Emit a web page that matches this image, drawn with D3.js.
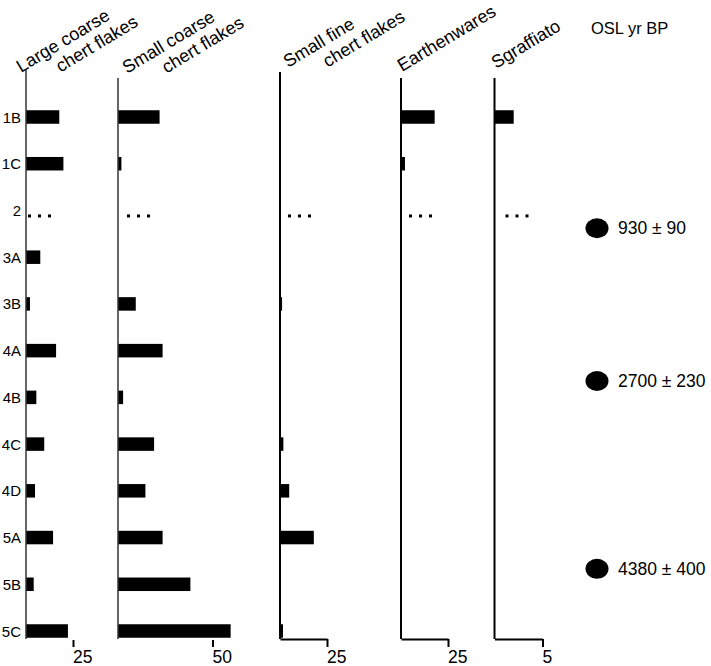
<!DOCTYPE html>
<html>
<head>
<meta charset="utf-8">
<script src="https://cdn.jsdelivr.net/npm/d3@7/dist/d3.min.js"></script>
<style>
  html, body { margin: 0; padding: 0; background: #fff; }
  svg { display: block; font-family: "Liberation Sans", Arial, sans-serif; }
</style>
</head>
<body>
<svg id="chart" width="711" height="666"></svg>
<script>
// ---- data ----
const rows = ["1B", "1C", "2", "3A", "3B", "4A", "4B", "4C", "4D", "5A", "5B", "5C"];
const missingRow = "2";
const largeCoarse = [17.7, 19.9, null, 7.6, 2.1, 16.0, 5.5, 9.7, 4.8, 14.4, 4.1, 22.3];
const smallCoarse = [22.0, 1.8, null, 0, 9.4, 23.6, 2.7, 19.1, 14.5, 23.6, 38.3, 59.6];
const smallFine   = [0, 0, null, 0, 1.1, 0, 0, 1.8, 4.9, 18.0, 0, 1.6];
const earthenwares = [17.9, 2.1, null, 0, 0, 0, 0, 0, 0, 0, 0, 0];
const sgraffiato  = [2.0, 0, null, 0, 0, 0, 0, 0, 0, 0, 0, 0];
const seriesTitles = [["Large coarse", "chert flakes"], ["Small coarse", "chert flakes"],
                      ["Small fine", "chert flakes"], ["Earthenwares"], ["Sgraffiato"]];
const tickMax = [25, 50, 25, 25, 5];
const oslTitle = "OSL yr BP";
const oslLabels = ["930 ± 90", "2700 ± 230", "4380 ± 400"];
const oslPos = [2.38, 5.65, 9.67]; // position in row-index units

// ---- layout / style ----
const svg = d3.select("#chart");
const font = "'Liberation Sans', Arial, sans-serif";
const y = d3.scalePoint().domain(rows).range([117, 631]);
const yIdx = d3.scaleLinear().domain([0, rows.length - 1]).range([117, 631]);
const barH = 13.5;
const baseY = 639;

const panels = [
  {values: largeCoarse, x0: 26, x1: 73, top: 70, lw: 1.5, base: false, hx: -5, hy: 73, dotOff: 2},
  {values: smallCoarse, x0: 118, x1: 212.5, top: 78, lw: 1.5, base: false, hx: 9, hy: 74, dotOff: 9},
  {values: smallFine, x0: 280, x1: 327, top: 72, lw: 2, base: true, hx: 8, hy: 68, dotOff: 8},
  {values: earthenwares, x0: 401, x1: 448, top: 78, lw: 2, base: true, hx: 1, hy: 72, dotOff: 8},
  {values: sgraffiato, x0: 494.5, x1: 542.5, top: 78, lw: 2, base: true, hx: 1.5, hy: 69, dotOff: 11}
];

// row labels
svg.append("g").selectAll("text").data(rows).join("text")
  .attr("x", 21).attr("y", d => y(d) + 5.5)
  .attr("text-anchor", "end")
  .attr("font-size", 15)
  .attr("fill", "#000")
  .text(d => d);

panels.forEach((p, i) => {
  const x = d3.scaleLinear().domain([0, tickMax[i]]).range([p.x0, p.x1]);
  const g = svg.append("g");

  // bars
  const data = rows.map((r, k) => ({row: r, v: p.values[k]})).filter(d => d.v != null && d.v > 0);
  g.selectAll("rect.bar").data(data).join("rect")
    .attr("class", "bar")
    .attr("x", x(0))
    .attr("y", d => y(d.row) - barH / 2)
    .attr("width", d => x(d.v) - x(0))
    .attr("height", barH)
    .attr("fill", "#000");

  // vertical axis
  g.append("line")
    .attr("x1", x(0)).attr("x2", x(0))
    .attr("y1", p.top).attr("y2", baseY)
    .attr("stroke", i < 2 ? "#333" : "#000")
    .attr("stroke-width", p.lw);

  // bottom axis
  const ax = d3.axisBottom(x).tickValues([tickMax[i]]).tickFormat(d3.format("d")).tickSize(8).tickSizeOuter(0);
  const axg = g.append("g").attr("transform", `translate(0,${baseY})`).call(ax);
  axg.select(".domain").attr("stroke-width", 2).attr("stroke", "#000").attr("display", p.base ? null : "none");
  axg.selectAll(".tick line").attr("stroke", "#000").attr("stroke-width", 2).attr("y1", p.base ? 0 : 1);
  axg.selectAll(".tick text")
    .attr("text-anchor", "start").attr("x", -0.5).attr("y", 24).attr("dy", 0)
    .attr("font-size", 17.5).attr("font-family", font).attr("fill", "#000");

  // missing-row dots
  g.selectAll("rect.dot").data([0, 1, 2]).join("rect")
    .attr("class", "dot")
    .attr("x", k => x(0) + p.dotOff + k * 10)
    .attr("y", y(missingRow) + 4)
    .attr("width", 3).attr("height", 3)
    .attr("fill", "#000");

  // rotated header
  const t = svg.append("text")
    .attr("transform", `translate(${x(0) + p.hx},${p.hy}) rotate(-31)`)
    .attr("font-size", 18).attr("fill", "#000");
  seriesTitles[i].forEach((line, k) => {
    t.append("tspan").attr("x", k === 0 ? 0 : 34).attr("y", k === 0 ? 0 : 20).text(line);
  });
});

// OSL column
svg.append("text").attr("x", 591).attr("y", 33.5).attr("font-size", 16.5).attr("fill", "#000").text(oslTitle);
const osl = svg.append("g");
osl.selectAll("ellipse").data(oslPos).join("ellipse")
  .attr("cx", 597).attr("cy", d => yIdx(d))
  .attr("rx", 11.5).attr("ry", 10).attr("fill", "#000");
osl.selectAll("text").data(oslLabels).join("text")
  .attr("x", 618).attr("y", (d, k) => yIdx(oslPos[k]) + 6)
  .attr("font-size", 17.5).attr("fill", "#000")
  .text(d => d);
</script>
</body>
</html>
